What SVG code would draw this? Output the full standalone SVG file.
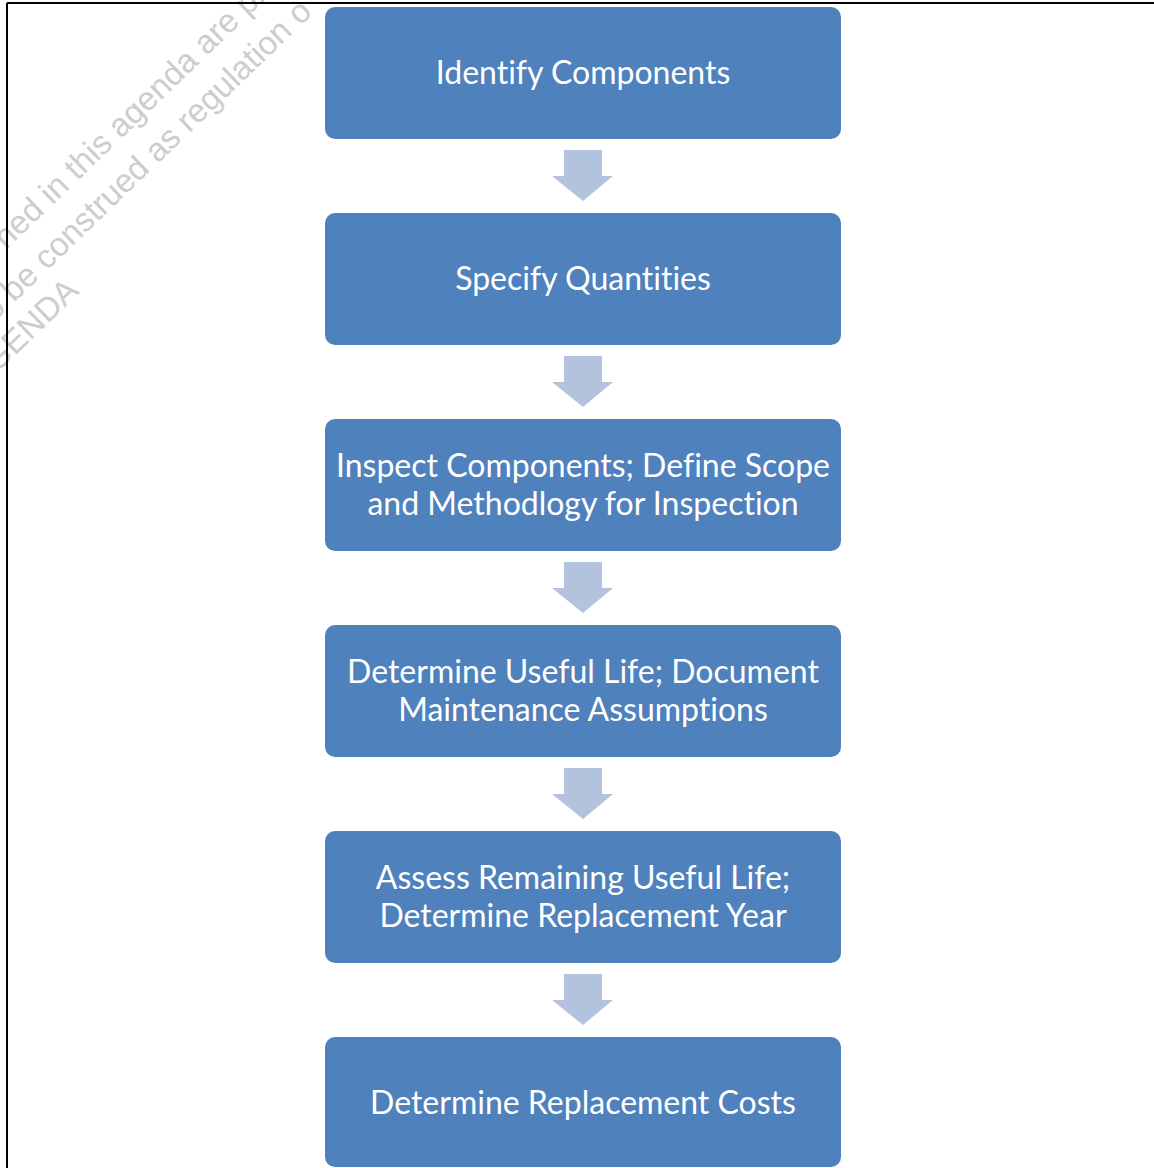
<svg xmlns="http://www.w3.org/2000/svg" width="1154" height="1168" viewBox="0 0 1154 1168">
<style>
.box{fill:#4F81BD;}
.lbl{font-family:Lato,"Open Sans","Liberation Sans",sans-serif;font-size:32px;fill:#ffffff;text-anchor:middle;font-variant-ligatures:none;}
.arr{fill:#B3C3DE;}
.wm{font-family:"Liberation Sans",Arial,sans-serif;font-size:33px;fill:#cdcdcd;}
</style>
<rect width="1154" height="1168" fill="#ffffff"/>
<g id="watermark">
<text class="wm" transform="translate(6,250) rotate(-44)">ned in this agenda are pro</text>
<text class="wm" transform="translate(-6,322) rotate(-44)">o be construed as regulation o</text>
<text class="wm" transform="translate(-4,374) rotate(-44)">GENDA</text>
</g>
<g id="frame" fill="none" stroke="#000000" stroke-width="2">
<line x1="7" y1="3" x2="1154" y2="3"/>
<line x1="7" y1="3" x2="7" y2="1168"/>
</g>
<g id="connectors">
<path class="arr" d="M564,150 H602 V176 H613 L583,201 L552,176 H564 Z"/>
<path class="arr" d="M564,356 H602 V382 H613 L583,407 L552,382 H564 Z"/>
<path class="arr" d="M564,562 H602 V588 H613 L583,613 L552,588 H564 Z"/>
<path class="arr" d="M564,768 H602 V794 H613 L583,819 L552,794 H564 Z"/>
<path class="arr" d="M564,974 H602 V1000 H613 L583,1025 L552,1000 H564 Z"/>
</g>
<g id="n1"><rect class="box" x="325" y="7" width="516" height="132" rx="10"/><text class="lbl" x="583" y="84">Identify Components</text></g>
<g id="n2"><rect class="box" x="325" y="213" width="516" height="132" rx="10"/><text class="lbl" x="583" y="290">Specify Quantities</text></g>
<g id="n3"><rect class="box" x="325" y="419" width="516" height="132" rx="10"/><text class="lbl" x="583" y="477">Inspect Components; Define Scope</text><text class="lbl" x="583" y="515">and Methodlogy for Inspection</text></g>
<g id="n4"><rect class="box" x="325" y="625" width="516" height="132" rx="10"/><text class="lbl" x="583" y="683">Determine Useful Life; Document</text><text class="lbl" x="583" y="721">Maintenance Assumptions</text></g>
<g id="n5"><rect class="box" x="325" y="831" width="516" height="132" rx="10"/><text class="lbl" x="583" y="889">Assess Remaining Useful Life;</text><text class="lbl" x="583" y="927">Determine Replacement Year</text></g>
<g id="n6"><rect class="box" x="325" y="1037" width="516" height="130" rx="10"/><text class="lbl" x="583" y="1114">Determine Replacement Costs</text></g>
</svg>
